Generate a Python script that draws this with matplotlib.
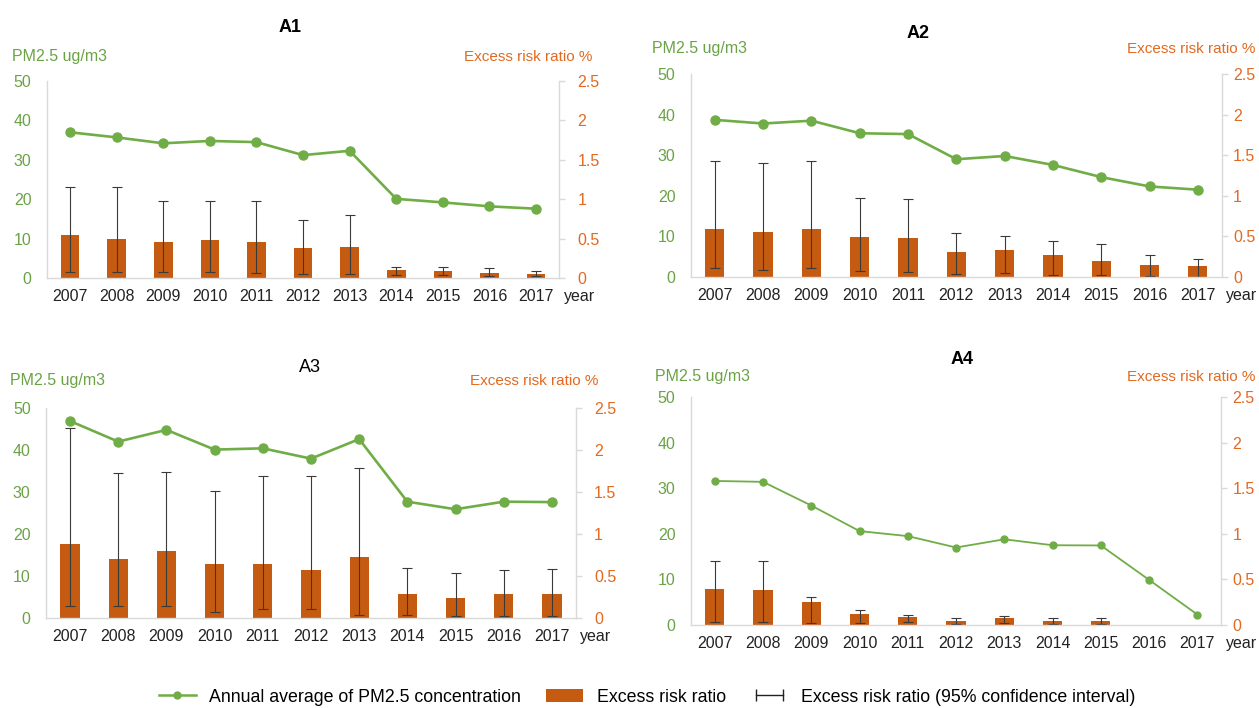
import numpy as np
import matplotlib
matplotlib.use("Agg")
import matplotlib.pyplot as plt
from matplotlib.lines import Line2D
from matplotlib.patches import Patch
from matplotlib.legend_handler import HandlerLine2D

plt.rcParams['font.family'] = ['Liberation Sans', 'DejaVu Sans']

years = [str(y) for y in range(2007, 2018)]

# PM2.5 annual average (ug/m3), left axis
pm_a1 = [37.0, 35.7, 34.2, 34.8, 34.5, 31.2, 32.3, 20.1, 19.2, 18.2, 17.6]
pm_a2 = [38.7, 37.8, 38.5, 35.4, 35.2, 29.0, 29.8, 27.6, 24.6, 22.3, 21.5]
pm_a3 = [46.9, 42.0, 44.8, 40.1, 40.4, 37.95, 42.6, 27.7, 25.9, 27.7, 27.6]
pm_a4 = [31.6, 31.4, 26.2, 20.6, 19.5, 17.0, 18.8, 17.5, 17.45, 9.9, 2.3]

# excess risk ratio (%), right axis
err_a1 = [0.54, 0.50, 0.46, 0.48, 0.46, 0.375, 0.40, 0.10, 0.085, 0.07, 0.05]
err_a2 = [0.594, 0.56, 0.586, 0.49, 0.48, 0.31, 0.33, 0.276, 0.20, 0.148, 0.13]
err_a3 = [0.88, 0.70, 0.80, 0.64, 0.646, 0.57, 0.724, 0.28, 0.236, 0.28, 0.28]
err_a4 = [0.39, 0.385, 0.25, 0.117, 0.092, 0.04, 0.077, 0.048, 0.048, np.nan, np.nan]

# 95% confidence interval bounds
lo_a1 = [0.076, 0.076, 0.076, 0.076, 0.063, 0.05, 0.046, 0.038, 0.038, 0.03, 0.02]
hi_a1 = [1.16, 1.16, 0.98, 0.98, 0.975, 0.74, 0.80, 0.14, 0.135, 0.127, 0.085]
lo_a2 = [0.107, 0.08, 0.107, 0.07, 0.062, 0.033, 0.045, 0.02, 0.02, 0.008, 0.0]
hi_a2 = [1.43, 1.40, 1.43, 0.97, 0.96, 0.54, 0.51, 0.44, 0.40, 0.27, 0.227]
lo_a3 = [0.14, 0.14, 0.14, 0.067, 0.106, 0.106, 0.03, 0.035, 0.028, 0.024, 0.028]
hi_a3 = [2.26, 1.73, 1.74, 1.51, 1.69, 1.69, 1.78, 0.59, 0.53, 0.575, 0.58]
lo_a4 = [0.033, 0.033, 0.022, 0.018, 0.03, 0.011, 0.018, 0.007, 0.007, np.nan, np.nan]
hi_a4 = [0.70, 0.70, 0.31, 0.16, 0.11, 0.077, 0.10, 0.077, 0.077, np.nan, np.nan]

GREEN = '#70AD47'
GREEN_TXT = '#6AA345'
BAR = '#C55A11'
ORANGE_TXT = '#E2691F'
SPINE = '#D9D9D9'

panels = [
    dict(name='A1', pm=pm_a1, er=err_a1, lo=lo_a1, hi=hi_a1, bold=True,
         rect=[0.0371, 0.6073, 0.4072, 0.2782], title=(290, 27),
         ylab=(12, 57), rlab=(592, 57), lw=1.9, ms=6.5, rpad=9),
    dict(name='A2', pm=pm_a2, er=err_a2, lo=lo_a2, hi=hi_a2, bold=True,
         rect=[0.5486, 0.6088, 0.4220, 0.2867], title=(918, 33),
         ylab=(652, 49), rlab=(1255, 49), lw=1.9, ms=6.5, rpad=4),
    dict(name='A3', pm=pm_a3, er=err_a3, lo=lo_a3, hi=hi_a3, bold=False,
         rect=[0.0365, 0.1271, 0.4210, 0.2966], title=(310, 368),
         ylab=(10, 381), rlab=(598, 381), lw=1.9, ms=6.5, rpad=9),
    dict(name='A4', pm=pm_a4, er=err_a4, lo=lo_a4, hi=hi_a4, bold=True,
         rect=[0.5486, 0.1172, 0.4216, 0.3220], title=(962, 360),
         ylab=(655, 377), rlab=(1255, 377), lw=1.3, ms=5, rpad=4),
]

W, H = 1259, 708
fig = plt.figure(figsize=(W / 100, H / 100), dpi=100)

for p in panels:
    ax = fig.add_axes(p['rect'])
    ax2 = ax.twinx()
    x = np.arange(len(years))
    er = np.array(p['er'])
    yerr = [er - np.array(p['lo']), np.array(p['hi']) - er]

    ax2.bar(x, er, width=0.4, color=BAR, zorder=2)
    ax2.errorbar(x, er, yerr=yerr, fmt='none', ecolor='#3A3A3A',
                 elinewidth=0.8, capsize=3.5, capthick=0.8, zorder=3)
    ax.plot(x, p['pm'], color=GREEN, lw=p['lw'], marker='o', ms=p['ms'])

    # keep the PM2.5 line above the bars
    ax.set_zorder(ax2.get_zorder() + 1)
    ax.patch.set_visible(False)

    ax.set_xlim(-0.5, len(years) - 0.5)
    ax.set_ylim(0, 50)
    ax.set_yticks([0, 10, 20, 30, 40, 50])
    ax2.set_ylim(0, 2.5)
    ax2.set_yticks([0, 0.5, 1, 1.5, 2, 2.5])
    ax2.set_yticklabels(['0', '0.5', '1', '1.5', '2', '2.5'])
    ax.set_xticks(x)
    ax.set_xticklabels(years)

    for a in (ax, ax2):
        for s in a.spines.values():
            s.set_visible(False)
    ax.spines['left'].set_visible(True)
    ax.spines['bottom'].set_visible(True)
    ax2.spines['right'].set_visible(True)
    for s in (ax.spines['left'], ax.spines['bottom'], ax2.spines['right']):
        s.set_color(SPINE)
        s.set_linewidth(1.0)

    ax.tick_params(axis='x', length=0, pad=8, labelsize=11.5, labelcolor='#222222')
    ax.tick_params(axis='y', length=0, pad=11, labelsize=11.5, labelcolor=GREEN_TXT)
    ax2.tick_params(axis='y', length=4, width=1, color=SPINE, pad=p['rpad'],
                    labelsize=11.5, labelcolor=ORANGE_TXT)

    ax.annotate('year', xy=(1, 0), xycoords='axes fraction', xytext=(3, -8),
                textcoords='offset points', ha='left', va='top',
                fontsize=11.5, color='#222222')

    tx, ty = p['title']
    fig.text(tx / W, 1 - ty / H, p['name'], ha='center', va='center',
             fontsize=13, fontweight='bold' if p['bold'] else 'normal')
    lx, ly = p['ylab']
    fig.text(lx / W, 1 - ly / H, 'PM2.5 ug/m3', ha='left', va='center',
             fontsize=11.5, color=GREEN_TXT)
    rx, ry = p['rlab']
    fig.text(rx / W, 1 - ry / H, 'Excess risk ratio %', ha='right', va='center',
             fontsize=11, color=ORANGE_TXT)

h_line = Line2D([], [], color=GREEN, lw=1.8, marker='o', ms=5)
h_bar = Patch(facecolor=BAR)
h_ci = Line2D([], [], color='#222222', lw=1.0, marker='|', ms=8)
fig.legend([h_line, h_bar, h_ci],
           ['Annual average of PM2.5 concentration', 'Excess risk ratio',
            'Excess risk ratio (95% confidence interval)'],
           handler_map={h_ci: HandlerLine2D(numpoints=2)},
           loc='center', bbox_to_anchor=(0.514, 1 - 697 / H), ncol=3,
           frameon=False, fontsize=12.8, handlelength=2.1, columnspacing=1.4,
           handletextpad=0.75)

fig.savefig('out.png', dpi=100)
